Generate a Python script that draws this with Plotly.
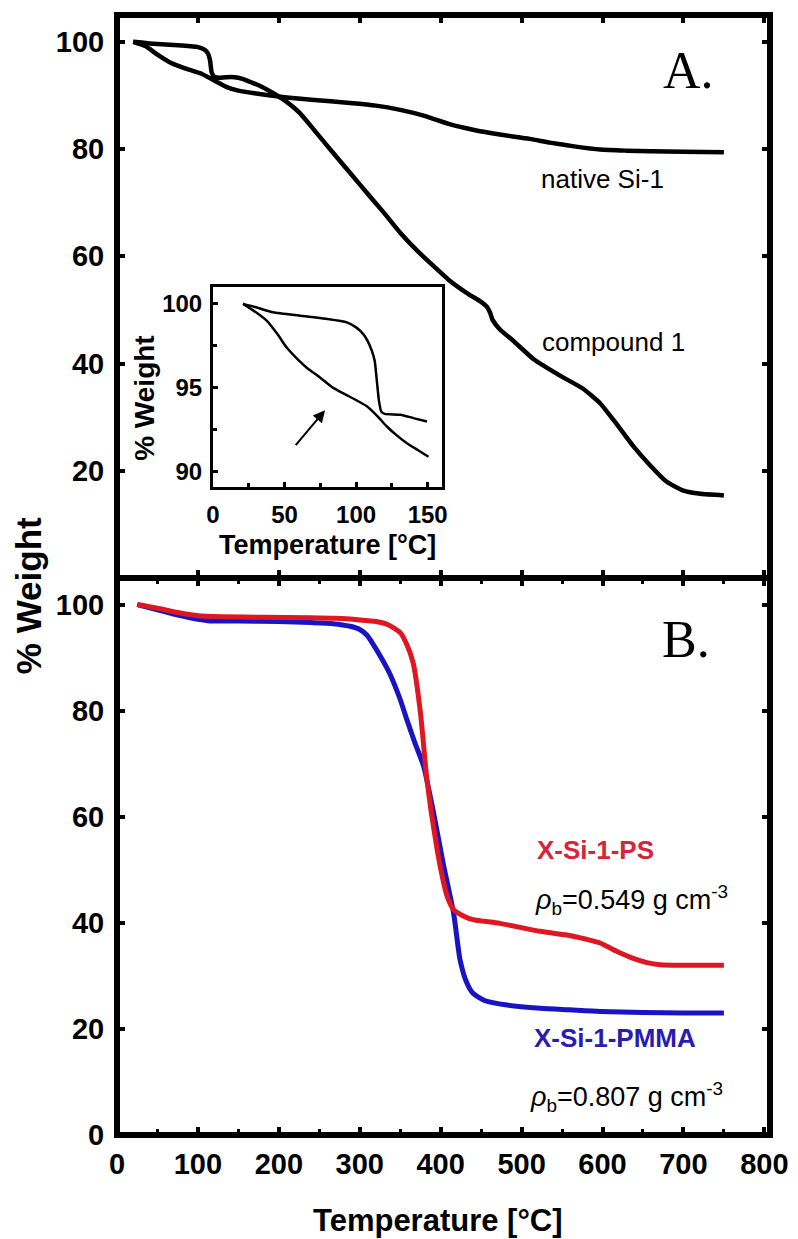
import plotly.graph_objects as go

# ---------------- data: panel A (main) ----------------
compound_T = [20, 40, 60, 80, 100, 106, 110, 113, 115, 117, 120, 125, 135, 145, 155, 165, 175, 190, 205,
              226, 245, 267, 290, 309, 330, 350, 370, 391, 410, 432, 450, 457, 461, 464, 473, 490, 515,
              548, 576, 597, 618, 638, 659, 679, 700, 721, 750]
compound_W = [100, 99.7, 99.5, 99.3, 99.0, 98.7, 98.3, 97.6, 96.5, 94.3, 93.5, 93.3, 93.4, 93.4, 93.1, 92.5,
              91.9, 90.7, 89.3, 86.7, 83.3, 79.3, 75.2, 71.8, 68.1, 64.4, 61.2, 58.2, 55.6, 53.2, 51.5, 50.6,
              49.5, 48.2, 46.4, 44.2, 40.8, 37.7, 35.3, 32.6, 28.6, 24.6, 21.0, 18.0, 16.3, 15.7, 15.4]

native_T = [20, 35, 50, 65, 85, 105, 120, 135, 150, 170, 200, 240, 288, 320, 350, 380, 412, 440, 473,
            510, 535, 565, 597, 630, 659, 700, 750]
native_W = [100, 99.2, 97.6, 96.2, 95.0, 94.0, 92.8, 91.6, 90.9, 90.4, 89.8, 89.2, 88.6, 88.1, 87.3, 86.2,
            84.6, 83.6, 82.7, 81.9, 81.2, 80.5, 79.9, 79.7, 79.6, 79.5, 79.4]

# ---------------- data: inset ----------------
inset_compound_T = [21, 30, 42, 60, 80, 93.5, 100, 105, 108, 111, 113, 114.5, 116, 117.5, 120, 131, 140, 149.5]
inset_compound_W = [100, 99.8, 99.5, 99.3, 99.1, 98.9, 98.6, 98.2, 97.8, 97.2, 96.6, 95.4, 94.2, 93.6,
                    93.45, 93.4, 93.2, 93.0]
inset_native_T = [21, 30, 37.5, 45, 51.5, 58, 65.5, 75, 84, 95, 107.5, 115, 121.5, 128, 135.5, 143, 150.6]
inset_native_W = [100, 99.5, 99.0, 98.2, 97.4, 96.8, 96.2, 95.6, 95.0, 94.5, 93.9, 93.3, 92.7, 92.2,
                  91.7, 91.3, 90.9]

# ---------------- data: panel B ----------------
ps_T = [25, 50, 75, 100, 130, 180, 240, 270, 300, 320, 335, 350, 358, 366, 375, 383, 395, 403, 408, 416,
        428, 440, 473, 523, 556, 580, 597, 618, 638, 655, 671, 700, 750]
ps_W = [100, 99.3, 98.5, 97.9, 97.7, 97.6, 97.5, 97.4, 97.1, 96.8, 96.2, 94.7, 92.5, 89.0, 79.6, 67.0,
        54.4, 48.0, 45.0, 42.5, 41.3, 40.6, 39.9, 38.4, 37.7, 36.9, 36.2, 34.6, 33.3, 32.5, 32.1, 32.0, 32.0]

pmma_T = [25, 50, 75, 100, 115, 150, 200, 240, 267, 288, 300, 309, 317, 329, 337, 350, 358, 368, 379, 391,
          403, 416, 424, 432, 440, 455, 482, 523, 560, 597, 650, 700, 750]
pmma_W = [100, 99.0, 98.0, 97.2, 96.9, 96.9, 96.8, 96.6, 96.4, 95.9, 95.3, 94.2, 92.4, 89.3, 87.0, 82.1,
          78.4, 74.0, 69.5, 60.9, 51.3, 41.8, 33.0, 28.8, 26.7, 25.3, 24.5, 23.9, 23.6, 23.3, 23.1, 23.0, 23.0]

x_ticks = [0, 100, 200, 300, 400, 500, 600, 700, 800]
yA_ticks = [20, 40, 60, 80, 100]
yB_ticks = [0, 20, 40, 60, 80, 100]
inset_x_ticks = [0, 50, 100, 150]
inset_y_ticks = [90, 95, 100]

RED = "rgb(222,24,34)"
BLUE = "rgb(24,20,196)"
SANS = "Liberation Sans, Arial, sans-serif"
SERIF = "Liberation Serif, Times New Roman, serif"

SPLIT = 0.4973  # domain boundary between panels

fig = go.Figure()

# Panel A
fig.add_trace(go.Scatter(x=native_T, y=native_W, mode="lines", xaxis="x2", yaxis="y2",
                         line=dict(color="black", width=4.5, shape="spline", smoothing=0.6),
                         showlegend=False, hoverinfo="skip"))
fig.add_trace(go.Scatter(x=compound_T, y=compound_W, mode="lines", xaxis="x2", yaxis="y2",
                         line=dict(color="black", width=4.5, shape="spline", smoothing=0.5),
                         showlegend=False, hoverinfo="skip"))
# Inset
fig.add_trace(go.Scatter(x=inset_native_T, y=inset_native_W, mode="lines", xaxis="x3", yaxis="y3",
                         line=dict(color="black", width=2.5, shape="spline", smoothing=0.6),
                         showlegend=False, hoverinfo="skip"))
fig.add_trace(go.Scatter(x=inset_compound_T, y=inset_compound_W, mode="lines", xaxis="x3", yaxis="y3",
                         line=dict(color="black", width=2.5, shape="spline", smoothing=0.5),
                         showlegend=False, hoverinfo="skip"))
# Panel B
fig.add_trace(go.Scatter(x=pmma_T, y=pmma_W, mode="lines", xaxis="x", yaxis="y",
                         line=dict(color=BLUE, width=5, shape="spline", smoothing=0.6),
                         showlegend=False, hoverinfo="skip"))
fig.add_trace(go.Scatter(x=ps_T, y=ps_W, mode="lines", xaxis="x", yaxis="y",
                         line=dict(color=RED, width=5, shape="spline", smoothing=0.6),
                         showlegend=False, hoverinfo="skip"))

tickfont = dict(family=SANS, size=29, color="black", weight="bold")
inset_tickfont = dict(family=SANS, size=24, color="black", weight="bold")
common_ax = dict(showgrid=False, zeroline=False, showline=True, linecolor="black", linewidth=1,
                 mirror="ticks", ticks="inside", ticklen=8, tickwidth=4, tickcolor="black",
                 automargin=False)

fig.update_layout(
    width=798, height=1239,
    margin=dict(l=117, r=28, t=15, b=104),
    paper_bgcolor="white", plot_bgcolor="white",
    xaxis=dict(domain=[0, 1], range=[0, 807], anchor="y", tickvals=x_ticks, tickfont=tickfont,
               ticklabelstandoff=3,
               minor=dict(dtick=50, ticks="inside", ticklen=6, tickwidth=3, tickcolor="black"),
               **common_ax),
    yaxis=dict(domain=[0, SPLIT], range=[0, 105], anchor="x", tickvals=yB_ticks, tickfont=tickfont,
               ticklabelstandoff=6, **common_ax),
    xaxis2=dict(domain=[0, 1], range=[0, 807], anchor="y2", matches="x", tickvals=x_ticks,
                showticklabels=False, **common_ax),
    yaxis2=dict(domain=[SPLIT, 1], range=[0, 105], anchor="x2", tickvals=yA_ticks, tickfont=tickfont,
                ticklabelstandoff=6, **common_ax),
    xaxis3=dict(domain=[0.147, 0.4977], range=[0, 160], anchor="y3", tickvals=inset_x_ticks,
                tickfont=inset_tickfont, showgrid=False, zeroline=False, automargin=False,
                showline=True, linecolor="black", linewidth=3, mirror=True, ticks="inside",
                ticklen=5, tickwidth=3, tickcolor="black", ticklabelstandoff=4,
                minor=dict(dtick=25, ticks="inside", ticklen=4, tickwidth=2.5, tickcolor="black")),
    yaxis3=dict(domain=[0.5786, 0.7571], range=[89.1, 101], anchor="x3", tickvals=inset_y_ticks,
                tickfont=inset_tickfont, showgrid=False, zeroline=False, automargin=False,
                showline=True, linecolor="black", linewidth=3, mirror=True, ticks="inside",
                ticklen=5, tickwidth=3, tickcolor="black", ticklabelstandoff=3,
                minor=dict(dtick=2.5, ticks="inside", ticklen=4, tickwidth=2.5, tickcolor="black")),
)

# Frame shapes
fig.add_shape(type="rect", xref="paper", yref="paper", x0=0, x1=1, y0=0, y1=1,
              line=dict(color="black", width=6), layer="above")
fig.add_shape(type="line", xref="paper", yref="paper", x0=0, x1=1, y0=SPLIT, y1=SPLIT,
              line=dict(color="black", width=6), layer="above")

ann = []
# Axis titles
ann.append(dict(text="<b>% Weight</b>", xref="paper", yref="paper", x=-0.1363, y=0.482,
                xanchor="center", yanchor="middle",
                textangle=-90, showarrow=False, font=dict(family=SANS, size=35, color="black")))
ann.append(dict(text="<b>Temperature [°C]</b>", xref="paper", yref="paper", x=0.4916, y=-0.0765,
                xanchor="center", yanchor="middle",
                showarrow=False, font=dict(family=SANS, size=31, color="black")))
# Inset titles
ann.append(dict(text="<b>% Weight</b>", xref="paper", yref="paper", x=0.041, y=0.658,
                xanchor="center", yanchor="middle",
                textangle=-90, showarrow=False, font=dict(family=SANS, size=28, color="black")))
ann.append(dict(text="<b>Temperature [°C]</b>", xref="paper", yref="paper", x=0.3216, y=0.5268,
                xanchor="center", yanchor="middle",
                showarrow=False, font=dict(family=SANS, size=27, color="black")))
# Inset arrow
ann.append(dict(text="", xref="x3", yref="y3", x=78.3, y=93.67, axref="x3", ayref="y3",
                ax=56.9, ay=91.5, showarrow=True, arrowhead=2, arrowsize=1.2, arrowwidth=2,
                arrowcolor="black"))
# Panel labels
ann.append(dict(text="A.", xref="x2", yref="y2", x=706, y=94.6, showarrow=False,
                xanchor="center", yanchor="middle",
                font=dict(family=SERIF, size=52, color="black")))
ann.append(dict(text="B.", xref="x", yref="y", x=703, y=93.5, showarrow=False,
                xanchor="center", yanchor="middle",
                font=dict(family=SERIF, size=52, color="black")))
# Curve labels panel A
ann.append(dict(text="native Si-1", xref="x2", yref="y2", x=600, y=74.5, showarrow=False,
                xanchor="center", yanchor="middle",
                font=dict(family=SANS, size=26, color="black")))
ann.append(dict(text="compound 1", xref="x2", yref="y2", x=613, y=44, showarrow=False,
                xanchor="center", yanchor="middle",
                font=dict(family=SANS, size=26, color="black")))
# Curve labels panel B
ann.append(dict(text="<b>X-Si-1-PS</b>", xref="x", yref="y", x=517, y=53.8, xanchor="left",
                yanchor="middle",
                showarrow=False, font=dict(family=SANS, size=26, color="rgb(214,36,56)")))
ann.append(dict(text="<i>ρ</i><sub>b</sub>=0.549 g cm<sup>-3</sup>", xref="x", yref="y", x=514, y=44.3,
                xanchor="left", yanchor="middle",
                showarrow=False, font=dict(family=SANS, size=27, color="black")))
ann.append(dict(text="<b>X-Si-1-PMMA</b>", xref="x", yref="y", x=513, y=18.3, xanchor="left",
                yanchor="middle",
                showarrow=False, font=dict(family=SANS, size=26, color="rgb(40,28,178)")))
ann.append(dict(text="<i>ρ</i><sub>b</sub>=0.807 g cm<sup>-3</sup>", xref="x", yref="y", x=508, y=7.2,
                xanchor="left", yanchor="middle",
                showarrow=False, font=dict(family=SANS, size=27, color="black")))

fig.update_layout(annotations=ann)

fig.write_html("out.html", config={"displayModeBar": False},
               post_script="document.body.style.margin='0';document.body.style.padding='0';")
